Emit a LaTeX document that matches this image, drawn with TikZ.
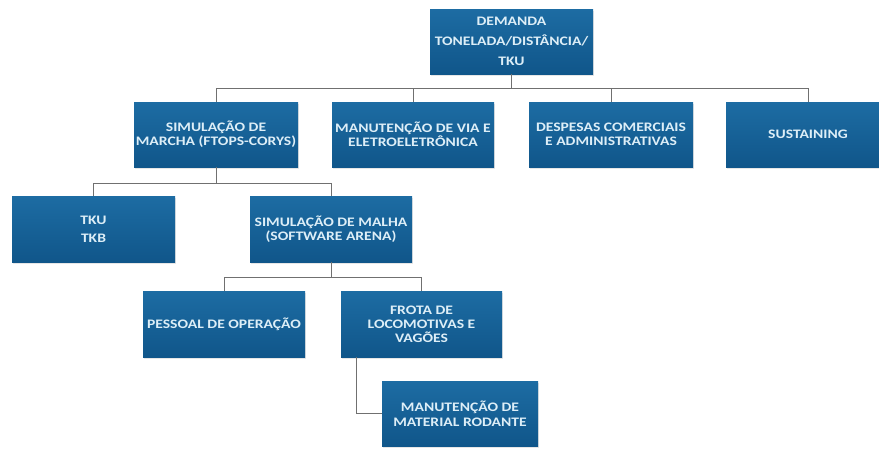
\documentclass[tikz,border=0pt]{standalone}
\usepackage{fontspec}
\setmainfont{Carlito}[FakeStretch=1.2]
\usetikzlibrary{shadows,calc}
\definecolor{boxtop}{HTML}{1D6CA3}
\definecolor{boxbot}{HTML}{10568A}
\definecolor{linegray}{HTML}{707070}
\definecolor{txt}{HTML}{DDEEF7}
\begin{document}
\begin{tikzpicture}[x=1pt,y=-1pt,
  box/.style={rectangle, top color=boxtop, bottom color=boxbot, draw=none,
    text=txt, font=\bfseries\fontsize{13}{14}\selectfont, align=center,
    inner sep=1pt,
    drop shadow={shadow xshift=1pt, shadow yshift=-2pt, opacity=0.2, fill=black!50}},
  conn/.style={draw=linegray, line width=0.8pt}]
\useasboundingbox (0,0) rectangle (879,448);
\node[box, minimum width=163pt, minimum height=65pt, font=\bfseries\fontsize{13}{20}\selectfont] (dem) at (511.5,41.5) {DEMANDA\\TONELADA/DISTÂNCIA/\\TKU};
\node[box, minimum width=164pt, minimum height=65pt] (marcha) at (216,134.5) {SIMULAÇÃO DE\\MARCHA (FTOPS-CORYS)};
\node[box, minimum width=162pt, minimum height=65pt] (via) at (413,134.5) {MANUTENÇÃO DE VIA E\\ELETROELETRÔNICA};
\node[box, minimum width=164pt, minimum height=65pt] (desp) at (611,134.5) {DESPESAS COMERCIAIS\\E ADMINISTRATIVAS};
\node[box, minimum width=164pt, minimum height=65pt] (sust) at (808,134.5) {SUSTAINING};
\node[box, minimum width=163pt, minimum height=66pt, font=\bfseries\fontsize{13}{18}\selectfont] (tku) at (93.5,229) {TKU\\TKB};
\node[box, minimum width=162pt, minimum height=66pt] (malha) at (331,229) {SIMULAÇÃO DE MALHA\\(SOFTWARE ARENA)};
\node[box, minimum width=162pt, minimum height=66pt] (pess) at (224,324) {PESSOAL DE OPERAÇÃO};
\node[box, minimum width=161pt, minimum height=66pt] (frota) at (421.5,324) {FROTA DE\\LOCOMOTIVAS E\\VAGÕES};
\node[box, minimum width=156pt, minimum height=65pt, font=\bfseries\fontsize{13}{15}\selectfont] (mat) at (460,413.5) {MANUTENÇÃO DE\\MATERIAL RODANTE};
% connectors
\draw[conn] (dem.south) -- ++(0,14) -| (marcha.north);
\draw[conn] (dem.south) -- ++(0,14) -| (via.north);
\draw[conn] (dem.south) -- ++(0,14) -| (desp.north);
\draw[conn] (dem.south) -- ++(0,14) -| (sust.north);
\draw[conn] (marcha.south) -- ++(0,16) -| (tku.north);
\draw[conn] (marcha.south) -- ++(0,16) -| (malha.north);
\draw[conn] (malha.south) -- ++(0,15) -| (pess.north);
\draw[conn] (malha.south) -- ++(0,15) -| (frota.north);
\draw[conn] ([xshift=16pt]frota.south west) |- (mat.west);
\end{tikzpicture}
\end{document}
